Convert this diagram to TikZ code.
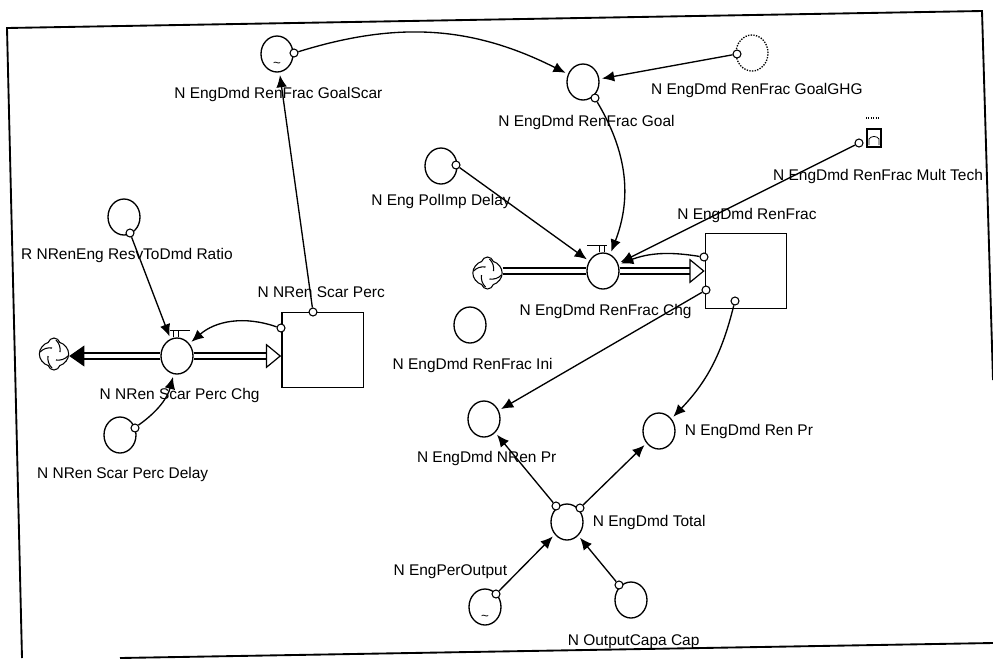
\documentclass[tikz,border=0pt]{standalone}
\usepackage{fontspec}
\setmainfont{Liberation Sans}
\usepackage{tikz}
\usetikzlibrary{arrows.meta,positioning,shapes.geometric,shapes.symbols}
\newcommand{\cloudcurls}[1]{
    \draw[thick] ([shift={(2,14)}]#1.center) to[bend left=25] ([shift={(6,2)}]#1.center);
    \draw[thick] ([shift={(-14,2)}]#1.center) to[bend left=25] ([shift={(-2,6)}]#1.center);
    \draw[thick] ([shift={(-2,-14)}]#1.center) to[bend left=25] ([shift={(-6,-2)}]#1.center);
    \draw[thick] ([shift={(14,-2)}]#1.center) to[bend left=25] ([shift={(2,-6)}]#1.center);
}
\newcommand{\valvemark}[2]{
    \draw[semithick] ([shift={(-4,0)}]#1.north) -- ([shift={(-4,7)}]#1.north);
    \draw[semithick] ([shift={(1,0)}]#1.north) -- ([shift={(1,7)}]#1.north);
    \draw[line width=1.2pt] ([shift={(#2,7)}]#1.north) -- ([shift={(#2+20,7)}]#1.north);
}
\tikzset{
    varcirc/.style={ellipse,draw,line width=1pt,inner sep=0pt,minimum width=24pt,minimum height=27pt},
    varghost/.style={varcirc,densely dotted},
    stockbox/.style={rectangle,draw,line width=1pt,inner sep=0pt,minimum width=61pt,minimum height=56pt},
    tapcirc/.style={circle,draw,thick,fill=white,inner sep=0pt,minimum size=6pt},
    sourcecloud/.style={cloud,draw,thick,cloud puffs=4,cloud puff arc=150,aspect=1,shape border rotate=45,inner sep=0pt,minimum width=22pt,minimum height=24pt},
    varlabel/.style={font=\fontsize{11.6pt}{13pt}\selectfont,inner sep=0pt,text height=8pt,text depth=2pt},
    graphbox/.style={rectangle,draw,line width=1.3pt,inner sep=0pt,minimum width=10pt,minimum height=14pt},
    tildemark/.style={font=\fontsize{10pt}{10pt}\selectfont,inner sep=0pt},
    infoline/.style={-{Latex[length=3.2mm,width=2.8mm]},line width=1pt,shorten >=2pt},
    pipeline/.style={line width=.9pt,double,double distance=3.6pt},
    framedge/.style={line width=1.4pt}
}
\begin{document}
\begin{tikzpicture}[x=.75pt,y=.75pt]
    \useasboundingbox (0,0) rectangle (993,-658);
    % frame
    \coordinate (frameA) at (7,-28);
    \coordinate (frameB) at (982,-11);
    \coordinate (frameC) at (993,-380);
    \coordinate (frameD) at (993,-643);
    \coordinate (frameE) at (120,-658);
    \coordinate (frameF) at (22,-658);
    \draw[framedge] (frameF) -- (frameA) -- (frameB) -- (frameC);
    \draw[framedge] (frameD) -- (frameE);
    % scar side
    \node[varcirc] (scargoal) at (277,-54) {};
    \node[varcirc] (ratio) at (124,-217) {};
    \node[varcirc] (scarchg) at (177,-356) {};
    \node[varcirc] (scardelay) at (120,-435) {};
    \node[stockbox] (scarperc) at (322.5,-350) {};
    \node[sourcecloud] (cloudA) at (54,-354) {};
    % fraction side
    \node[varcirc] (fracgoal) at (583,-82) {};
    \node[varghost] (fracghg) at (752,-53) {};
    \node[varcirc] (pollimp) at (441,-166) {};
    \node[varcirc] (fracchg) at (603,-271) {};
    \node[stockbox] (fracstock) at (746,-271) {};
    \node[sourcecloud] (cloudB) at (487.5,-273) {};
    \node[varcirc] (fracini) at (470,-325) {};
    \node[graphbox] (multtech) at (874,-138) {};
    % prices
    \node[varcirc] (nrenpr) at (484,-419) {};
    \node[varcirc] (renpr) at (659,-431) {};
    \node[varcirc] (total) at (567,-522) {};
    \node[varcirc] (peroutput) at (485,-607) {};
    \node[varcirc] (capacap) at (631,-600) {};
    % labels
    \node[varlabel,below=11.5pt of scargoal,xshift=1pt] (lscargoal) {N EngDmd RenFrac GoalScar};
    \node[varlabel,below=11.5pt of fracgoal,xshift=2.6pt] (lfracgoal) {N EngDmd RenFrac Goal};
    \node[varlabel,below=9.2pt of fracghg,xshift=3.7pt] (lfracghg) {N EngDmd RenFrac GoalGHG};
    \node[varlabel,below=7.7pt of pollimp] (lpollimp) {N Eng PolImp Delay};
    \node[varlabel,below=10pt of ratio,xshift=2.2pt] (lratio) {R NRenEng ResvToDmd Ratio};
    \node[varlabel,above=8.5pt of scarperc,xshift=-1pt] (lscarperc) {N NRen Scar Perc};
    \node[varlabel,below=10.7pt of scarchg,xshift=2pt] (lscarchg) {N NRen Scar Perc Chg};
    \node[varlabel,below=10.7pt of scardelay,xshift=2pt] (lscardelay) {N NRen Scar Perc Delay};
    \node[varlabel,above=7.7pt of fracstock,xshift=.7pt] (lfracstock) {N EngDmd RenFrac};
    \node[varlabel,below=16pt of multtech,xshift=3pt] (lmulttech) {N EngDmd RenFrac Mult Tech};
    \node[varlabel,below=11.5pt of fracchg,xshift=1.9pt] (lfracchg) {N EngDmd RenFrac Chg};
    \node[varlabel,below=11.5pt of fracini,xshift=2pt] (lfracini) {N EngDmd RenFrac Ini};
    \node[varlabel,below=10.7pt of nrenpr,xshift=2pt] (lnrenpr) {N EngDmd NRen Pr};
    \node[varlabel,right=6.7pt of renpr] (lrenpr) {N EngDmd Ren Pr};
    \node[varlabel,right=6.7pt of total] (ltotal) {N EngDmd Total};
    \node[varlabel,above=7.7pt of peroutput,xshift=-26pt] (lperoutput) {N EngPerOutput};
    \node[varlabel,below=12.2pt of capacap,xshift=2pt] (lcapacap) {N OutputCapa Cap};
    % graph marks
    \node[tildemark] (tildeA) at (277,-65) {\textasciitilde};
    \node[tildemark] (tildeB) at (485,-618) {\textasciitilde};
    \draw[semithick] ([shift={(-5,-7)}]multtech.center) -- ([shift={(-5,-1)}]multtech.center) to[bend left=60] ([shift={(5,-1)}]multtech.center) -- ([shift={(5,-7)}]multtech.center);
    \draw[densely dotted,thick] ([shift={(-8,20)}]multtech.center) -- ([shift={(6,20)}]multtech.center);
    \cloudcurls{cloudA}
    \cloudcurls{cloudB}
    \valvemark{scarchg}{-7}
    \valvemark{fracchg}{-16}
    % taps
    \node[tapcirc] (tscargoal) at (294,-53) {};
    \node[tapcirc] (tfracgoal) at (595,-98) {};
    \node[tapcirc] (tfracghg) at (737,-54) {};
    \node[tapcirc] (tpollimp) at (456,-165) {};
    \node[tapcirc] (tmulttech) at (859,-143) {};
    \node[tapcirc] (tratio) at (130,-233) {};
    \node[tapcirc] (tscardelay) at (135,-428) {};
    \node[tapcirc] (tscartop) at (313,-312) {};
    \node[tapcirc] (tscarleft) at (281,-328) {};
    \node[tapcirc] (tfracup) at (704,-257) {};
    \node[tapcirc] (tfraclow) at (706,-290) {};
    \node[tapcirc] (tfracbot) at (735,-301) {};
    \node[tapcirc] (ttotalA) at (556,-506) {};
    \node[tapcirc] (ttotalB) at (580,-508) {};
    \node[tapcirc] (tperoutput) at (496,-594) {};
    \node[tapcirc] (tcapacap) at (619,-585) {};
    % pipes
    \draw[pipeline,-{Triangle[length=4mm,width=5.5mm]}] (scarchg.west) -- (scarchg.west -| cloudA.east);
    \draw[pipeline,-{Triangle[open,fill=white,length=4mm,width=6.5mm]}] (scarchg.east) -- (scarchg.east -| scarperc.west);
    \draw[pipeline] (cloudB.east |- fracchg.west) -- (fracchg.west);
    \draw[pipeline,-{Triangle[open,fill=white,length=4mm,width=6.5mm]}] (fracchg.east) -- (fracchg.east -| fracstock.west);
    % links
    \draw[infoline] (tscartop) -- (scargoal);
    \draw[infoline] (tscargoal) to[bend left=22] (fracgoal);
    \draw[infoline] (tfracghg) -- (fracgoal);
    \draw[infoline] (tfracgoal) to[bend left=26] (fracchg);
    \draw[infoline] (tpollimp) -- (fracchg);
    \draw[infoline] (tmulttech) -- (fracchg);
    \draw[infoline] (tfracup) to[bend right=15] (fracchg);
    \draw[infoline] (tfraclow) -- (nrenpr);
    \draw[infoline] (tfracbot) to[bend left=15] (renpr);
    \draw[infoline] (tratio) -- (scarchg);
    \draw[infoline] (tscarleft) to[bend right=30] (scarchg);
    \draw[infoline] (tscardelay) to[bend right=20] (scarchg);
    \draw[infoline] (ttotalA) -- (nrenpr);
    \draw[infoline] (ttotalB) -- (renpr);
    \draw[infoline] (tperoutput) -- (total);
    \draw[infoline] (tcapacap) -- (total);
\end{tikzpicture}
\end{document}
